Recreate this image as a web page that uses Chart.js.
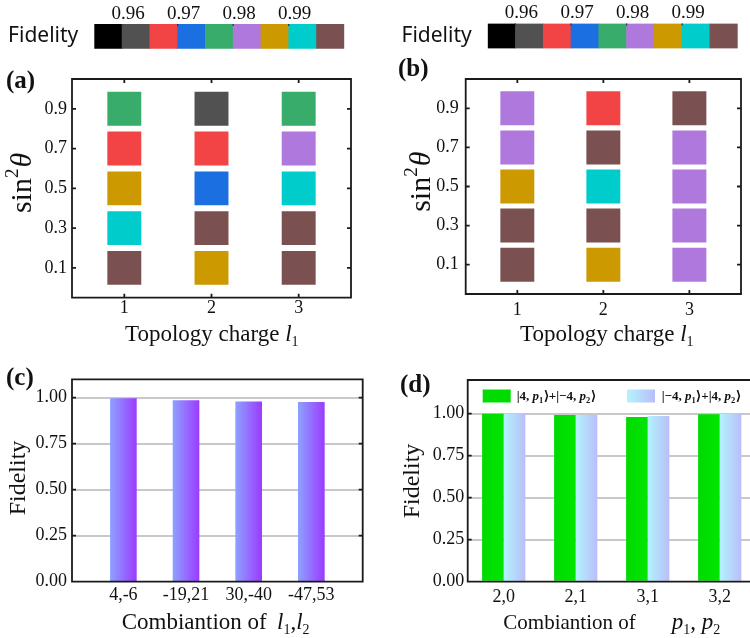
<!DOCTYPE html>
<html>
<head>
<meta charset="utf-8">
<script src="https://cdn.jsdelivr.net/npm/chart.js@4.4.1/dist/chart.umd.min.js"></script>
<style>
  html, body { margin: 0; padding: 0; background: #fff; overflow: hidden; }
  #page { position: relative; width: 750px; height: 638px; overflow: hidden; }
  canvas { position: absolute; }
</style>
</head>
<body>
<div id="page">
  <canvas id="cbA" width="375" height="55" style="left:0;top:0;width:375px;height:55px"></canvas>
  <canvas id="cbB" width="375" height="55" style="left:375px;top:0;width:375px;height:55px"></canvas>
  <canvas id="panelA" width="375" height="300" style="left:0;top:55px;width:375px;height:300px"></canvas>
  <canvas id="panelB" width="390" height="300" style="left:375px;top:55px;width:390px;height:300px"></canvas>
  <canvas id="panelC" width="375" height="283" style="left:0;top:355px;width:375px;height:283px"></canvas>
  <canvas id="panelD" width="390" height="283" style="left:375px;top:355px;width:390px;height:283px"></canvas>
</div>
<script>
// --- data ---
const thetaValues = [0.1, 0.3, 0.5, 0.7, 0.9];   // sin^2(theta)
const chargeValues = [1, 2, 3];                  // topology charge l1
// fidelity of each cell, one row per l1, columns follow thetaValues
const fidelityA = [
  [0.9975, 0.9925, 0.9875, 0.9675, 0.9775],
  [0.9875, 0.9975, 0.9725, 0.9675, 0.9625],
  [0.9975, 0.9975, 0.9925, 0.9825, 0.9775]
];
const fidelityB = [
  [0.9975, 0.9975, 0.9875, 0.9825, 0.9825],
  [0.9875, 0.9975, 0.9925, 0.9975, 0.9675],
  [0.9825, 0.9825, 0.9825, 0.9825, 0.9975]
];
// colour bar bins
const binEdges = [0.955, 0.96, 0.965, 0.97, 0.975, 0.98, 0.985, 0.99, 0.995, 1.0];
const binColors = ['#000000', '#515151', '#f24444', '#1b6fe0', '#38ad6b', '#ae78dc', '#cc9900', '#00cccc', '#7b5050'];
const colorbarTicks = [0.96, 0.97, 0.98, 0.99];

const combosC = ['4,-6', '-19,21', '30,-40', '-47,53'];
const fidelityC = [0.995, 0.984, 0.978, 0.975];

const combosD = ['2,0', '2,1', '3,1', '3,2'];
const fidelityD1 = [0.999, 0.992, 0.980, 0.996];   // |4,p1>+|-4,p2>
const fidelityD2 = [0.999, 0.992, 0.986, 0.999];   // |-4,p1>+|4,p2>
const fidelityTicks = [0, 0.25, 0.5, 0.75, 1.0];

// --- helpers ---
const SERIF = '"Liberation Serif", "Times New Roman", serif';
const f = (size, style) => (style ? style + ' ' : '') + size + 'px ' + SERIF;

Chart.defaults.animation = false;
Chart.defaults.events = [];
Chart.defaults.font.family = SERIF;
Chart.defaults.color = '#111';
Chart.defaults.plugins.legend.display = false;
Chart.defaults.plugins.tooltip.enabled = false;

function colorFor(v) {
  for (let i = 0; i < binColors.length; i++) {
    if (v >= binEdges[i] && v < binEdges[i + 1]) return binColors[i];
  }
  return binColors[binColors.length - 1];
}

function drawRich(ctx, segs, x, y, align) {
  let w = 0;
  segs.forEach(s => { ctx.font = s.font; w += ctx.measureText(s.text).width + (s.gap || 0); });
  let cx = align === 'center' ? x - w / 2 : (align === 'right' ? x - w : x);
  ctx.textAlign = 'left';
  ctx.textBaseline = 'alphabetic';
  segs.forEach(s => {
    ctx.font = s.font;
    ctx.fillText(s.text, cx, y + (s.dy || 0));
    cx += ctx.measureText(s.text).width + (s.gap || 0);
  });
}

// free text (titles with sub/superscripts, panel letters)
const textPlugin = {
  id: 'texts',
  afterDraw(chart, args, opts) {
    const ctx = chart.ctx;
    (opts.items || []).forEach(it => {
      ctx.save();
      ctx.fillStyle = '#111';
      ctx.translate(it.x, it.y);
      if (it.rotate) ctx.rotate(-Math.PI / 2);
      drawRich(ctx, it.segs, 0, 0, it.align || 'left');
      ctx.restore();
    });
  }
};

// box round the plot plus inward tick marks
const framePlugin = {
  id: 'frame',
  afterDatasetsDraw(chart, args, o) {
    const {ctx, chartArea: a, scales: {x, y}} = chart;
    const len = o.len || 4;
    ctx.save();
    ctx.strokeStyle = o.color || '#1a1a1a';
    ctx.lineWidth = o.width || 1.8;
    ctx.beginPath();
    if (o.box) ctx.rect(a.left, a.top, a.right - a.left, a.bottom - a.top);
    if (o.xTicks) x.ticks.forEach(t => {
      const p = x.getPixelForValue(t.value);
      if (o.xTicks !== 'top') { ctx.moveTo(p, a.bottom); ctx.lineTo(p, a.bottom - len); }
      ctx.moveTo(p, a.top); ctx.lineTo(p, a.top + len);
    });
    if (o.yTicks) y.ticks.forEach(t => {
      const p = y.getPixelForValue(t.value);
      ctx.moveTo(a.left, p); ctx.lineTo(a.left + len, p);
      ctx.moveTo(a.right, p); ctx.lineTo(a.right - len, p);
    });
    ctx.stroke();
    ctx.restore();
  }
};

// legend swatches for panel (d)
const swatchPlugin = {
  id: 'swatches',
  afterDraw(chart, args, opts) {
    const ctx = chart.ctx;
    (opts.items || []).forEach(s => {
      let fill = s.colors[0];
      if (s.colors.length > 1) {
        fill = ctx.createLinearGradient(s.x, 0, s.x + s.w, 0);
        fill.addColorStop(0, s.colors[0]);
        fill.addColorStop(1, s.colors[1]);
      }
      ctx.fillStyle = fill;
      ctx.fillRect(s.x, s.y, s.w, s.h);
    });
  }
};

function hGrad(chart, x0, x1, c0, c1) {
  if (!isFinite(x0) || !isFinite(x1) || x1 <= x0) return c0;
  const g = chart.ctx.createLinearGradient(x0, 0, x1, 0);
  g.addColorStop(0, c0);
  g.addColorStop(1, c1);
  return g;
}

const fixW = w => s => { s.width = w; s.paddingTop = 0; s.paddingBottom = 0; s.paddingLeft = 0; s.paddingRight = 0; };
const fixH = h => s => { s.height = h; s.paddingTop = 0; s.paddingBottom = 0; s.paddingLeft = 0; s.paddingRight = 0; };
const setTicks = vals => s => { s.ticks = vals.map(v => ({value: v})); };

// --- colour bars ---
function colorbar(id, yW, pad, xH) {
  return new Chart(document.getElementById(id), {
    type: 'bar',
    data: {
      labels: ['Fidelity'],
      datasets: [{
        data: binColors.map((c, i) => ({x: [binEdges[i], binEdges[i + 1]], y: 'Fidelity'})),
        backgroundColor: binColors,
        borderWidth: 0,
        barPercentage: 1,
        categoryPercentage: 1
      }]
    },
    options: {
      indexAxis: 'y',
      responsive: false,
      devicePixelRatio: 1,
      layout: {padding: pad},
      scales: {
        x: {
          type: 'linear', position: 'top',
          min: binEdges[0], max: binEdges[binEdges.length - 1],
          afterBuildTicks: setTicks(colorbarTicks),
          afterFit: fixH(xH),
          grid: {display: false, drawTicks: false},
          border: {display: false},
          ticks: {callback: v => v.toFixed(2), labelOffset: 6, padding: -1, font: {family: SERIF, size: 19}}
        },
        y: {
          afterFit: fixW(yW),
          grid: {display: false, drawTicks: false},
          border: {display: false},
          ticks: {padding: 16, font: {family: '"Noto Sans", sans-serif', size: 21}}
        }
      },
      plugins: {frame: {xTicks: 'top', len: 2, width: 1.2, color: '#333'}}
    },
    plugins: [framePlugin]
  });
}

colorbar('cbA', 94.3, {left: 0, top: 0, right: 30.7, bottom: 6.3}, 24);
colorbar('cbB', 112.7, {left: 0, top: 0, right: 12.3, bottom: 6.5}, 23.5);

// --- heat maps (a), (b) ---
function heatmap(id, fid, o) {
  const pts = [], cols = [];
  chargeValues.forEach((l, i) => thetaValues.forEach((t, j) => {
    pts.push({x: l, y: t});
    cols.push(colorFor(fid[i][j]));
  }));
  const sin2 = [
    {text: 'sin', font: f(30)},
    {text: '2', font: f(19), dy: -13, gap: 1},
    {text: 'θ', font: f(30, 'italic')}
  ];
  return new Chart(document.getElementById(id), {
    type: 'scatter',
    data: {datasets: [{data: pts, pointStyle: 'rect', pointRadius: 24, backgroundColor: cols, borderWidth: 0}]},
    options: {
      responsive: false,
      devicePixelRatio: 1,
      layout: {padding: o.pad},
      scales: {
        x: {
          type: 'linear', min: 0.4, max: 3.6,
          afterBuildTicks: setTicks(chargeValues),
          afterFit: fixH(o.xH),
          grid: {display: false, drawTicks: false},
          border: {display: false},
          ticks: {padding: o.xPad, font: {family: SERIF, size: 18}}
        },
        y: {
          type: 'linear', min: -0.05, max: 1.05,
          afterBuildTicks: setTicks(thetaValues),
          afterFit: fixW(o.yW),
          grid: {display: false, drawTicks: false},
          border: {display: false},
          ticks: {callback: v => v.toFixed(1), padding: o.yPad, font: {family: SERIF, size: 18}}
        }
      },
      plugins: {
        frame: {box: true, xTicks: true, yTicks: true},
        texts: {items: [
          {x: o.letter[0], y: o.letter[1], segs: [{text: o.letter[2], font: f(25, 'bold')}]},
          {x: o.sin[0], y: o.sin[1], rotate: true, align: 'center', segs: sin2},
          {x: o.xt[0], y: o.xt[1], segs: [
            {text: 'Topology charge ', font: f(23)},
            {text: 'l', font: f(23, 'italic')},
            {text: '1', font: f(14), dy: 5}
          ]}
        ]}
      }
    },
    plugins: [framePlugin, textPlugin]
  });
}

heatmap('panelA', fidelityA, {
  pad: {left: 0, top: 9.5, right: 12.3, bottom: 0}, xH: 57.3, yW: 72, xPad: 0, yPad: 5,
  letter: [6, 33, '(a)'], sin: [31, 128], xt: [125, 286]
});
heatmap('panelB', fidelityB, {
  pad: {left: 0, top: 9.5, right: 10, bottom: 0}, xH: 61, yW: 90.7, xPad: 5, yPad: 7,
  letter: [23, 21, '(b)'], sin: [55, 126.7], xt: [145, 286]
});

// --- bar chart (c) ---
const lSub = [
  {text: 'l', font: f(23, 'italic')},
  {text: '1', font: f(14), dy: 5},
  {text: ',', font: f(23)},
  {text: 'l', font: f(23, 'italic')},
  {text: '2', font: f(14), dy: 5}
];
new Chart(document.getElementById('panelC'), {
  type: 'bar',
  data: {
    datasets: [{
      data: fidelityC.map((v, i) => ({x: i + 1, y: v})),
      barThickness: 26,
      borderWidth: 0,
      backgroundColor: ctx => {
        if (ctx.type !== 'data' || !ctx.parsed || !ctx.chart.scales.x) return '#9470ff';
        const cx = ctx.chart.scales.x.getPixelForValue(ctx.parsed.x);
        return hGrad(ctx.chart, cx - 13, cx + 13, '#8ea0ff', '#9b3cff');
      }
    }]
  },
  options: {
    responsive: false,
    devicePixelRatio: 1,
    layout: {padding: {left: 0, top: 24.3, right: 12.3, bottom: 0}},
    scales: {
      x: {
        type: 'linear', min: 0.18, max: 4.82, offset: false,
        afterBuildTicks: setTicks(combosC.map((c, i) => i + 1)),
        afterFit: fixH(56.3),
        grid: {display: false, drawTicks: false, offset: false},
        border: {display: false},
        ticks: {callback: v => combosC[v - 1], padding: 3, font: {family: SERIF, size: 18}}
      },
      y: {
        type: 'linear', min: 0, max: 1.1,
        afterBuildTicks: setTicks(fidelityTicks),
        afterFit: fixW(72),
        grid: {drawTicks: false, lineWidth: 2, color: c => (c.tick && c.tick.value === 0) ? 'rgba(0,0,0,0)' : '#c8c8c8'},
        border: {display: false},
        ticks: {callback: v => v.toFixed(2), padding: 5, font: {family: SERIF, size: 18}}
      }
    },
    plugins: {
      frame: {box: true, yTicks: true},
      texts: {items: [
        {x: 6, y: 30, segs: [{text: '(c)', font: f(25, 'bold')}]},
        {x: 25, y: 123, rotate: true, align: 'center', segs: [{text: 'Fidelity', font: f(24)}]},
        {x: 121.7, y: 273.5, segs: [{text: 'Combiantion of', font: f(23)}]},
        {x: 277, y: 273.5, segs: lSub}
      ]}
    }
  },
  plugins: [framePlugin, textPlugin]
});

// --- grouped bar chart (d) ---
const groupBar = (ctx, side, c0, c1) => {
  const s = ctx.chart.scales.x;
  if (ctx.type !== 'data' || !s || !s.width) return c0;
  const cx = s.getPixelForValue(ctx.dataIndex);
  const bw = s.width / combosD.length * 0.6 / 2;
  return side === 0 ? hGrad(ctx.chart, cx - bw, cx, c0, c1) : hGrad(ctx.chart, cx, cx + bw, c0, c1);
};
const ketSegs = (a, b) => [
  {text: '|' + a + ', ', font: f(13, 'bold')},
  {text: 'p', font: f(13, 'italic bold')},
  {text: '1', font: f(8.5, 'bold'), dy: 2.5, gap: 0.5},
  {text: '⟩+|' + b + ', ', font: f(13, 'bold')},
  {text: 'p', font: f(13, 'italic bold')},
  {text: '2', font: f(8.5, 'bold'), dy: 2.5, gap: 0.5},
  {text: '⟩', font: f(13, 'bold')}
];
new Chart(document.getElementById('panelD'), {
  type: 'bar',
  data: {
    labels: combosD,
    datasets: [
      {data: fidelityD1, borderWidth: 0, backgroundColor: ctx => groupBar(ctx, 0, '#00da00', '#00e600')},
      {data: fidelityD2, borderWidth: 0, backgroundColor: ctx => groupBar(ctx, 1, '#b3f4fd', '#b9bdfa')}
    ]
  },
  options: {
    responsive: false,
    devicePixelRatio: 1,
    layout: {padding: {left: 0, top: 25, right: 9.3, bottom: 0}},
    datasets: {bar: {categoryPercentage: 0.6, barPercentage: 1}},
    scales: {
      x: {
        afterFit: fixH(56.3),
        grid: {display: false, drawTicks: false},
        border: {display: false},
        ticks: {padding: 4.5, font: {family: SERIF, size: 18}}
      },
      y: {
        type: 'linear', min: 0, max: 1.2,
        afterBuildTicks: setTicks(fidelityTicks),
        afterFit: fixW(92.7),
        grid: {drawTicks: false, lineWidth: 2, color: c => (c.tick && c.tick.value === 0) ? 'rgba(0,0,0,0)' : '#c8c8c8'},
        border: {display: false},
        ticks: {callback: v => v.toFixed(2), padding: 3.5, font: {family: SERIF, size: 18}}
      }
    },
    plugins: {
      frame: {box: true, yTicks: true},
      swatches: {items: [
        {x: 107.7, y: 34.5, w: 28, h: 13, colors: ['#00dc00']},
        {x: 252, y: 34.5, w: 28, h: 13, colors: ['#b3f4fd', '#b9bdfa']}
      ]},
      texts: {items: [
        {x: 25, y: 36.7, segs: [{text: '(d)', font: f(25, 'bold')}]},
        {x: 44, y: 126, rotate: true, align: 'center', segs: [{text: 'Fidelity', font: f(24)}]},
        {x: 141.7, y: 45, segs: ketSegs('4', '−4')},
        {x: 286.7, y: 45, segs: ketSegs('−4', '4')},
        {x: 128.3, y: 273.5, segs: [{text: 'Combiantion of', font: f(21)}]},
        {x: 296.7, y: 273.5, segs: [
          {text: 'p', font: f(23, 'italic')},
          {text: '1', font: f(14), dy: 5},
          {text: ', ', font: f(23)},
          {text: 'p', font: f(23, 'italic')},
          {text: '2', font: f(14), dy: 5}
        ]}
      ]}
    }
  },
  plugins: [framePlugin, swatchPlugin, textPlugin]
});
</script>
</body>
</html>
